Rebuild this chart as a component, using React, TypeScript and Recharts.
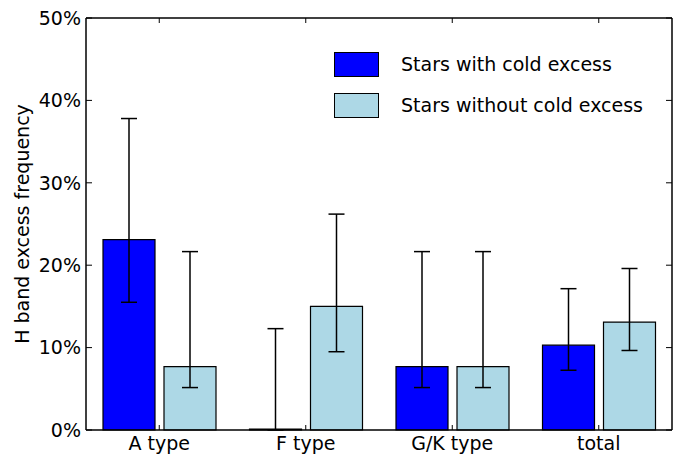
import React from 'react';
import { BarChart, Bar, Line, XAxis, YAxis, ErrorBar } from 'recharts';

const categories = ['A type', 'F type', 'G/K type', 'total'];

const withCold = [0.231, 0, 0.077, 0.103];
const withColdLow = [0.155, 0, 0.0515, 0.0725];
const withColdHigh = [0.378, 0.123, 0.2165, 0.1715];

const withoutCold = [0.077, 0.15, 0.077, 0.131];
const withoutColdLow = [0.0515, 0.095, 0.0515, 0.0965];
const withoutColdHigh = [0.2165, 0.262, 0.2165, 0.196];

const yTicks = [0, 0.1, 0.2, 0.3, 0.4, 0.5];

const seriesNames = ['Stars with cold excess', 'Stars without cold excess'];
const seriesColors = ['#0000ff', '#add8e6'];

const data = categories.map((name, i) => ({
  name,
  cold: withCold[i],
  coldErr: [withCold[i] - withColdLow[i], withColdHigh[i] - withCold[i]],
  noCold: withoutCold[i],
  noColdErr: [withoutCold[i] - withoutColdLow[i], withoutColdHigh[i] - withoutCold[i]],
}));

const font = "'DejaVu Sans', sans-serif";
const fs = 19;
const pct = (v: number) => `${Math.round(v * 100)}%`;

const YTitle = ({ viewBox }: any) => {
  const cy = viewBox.y + viewBox.height / 2;
  return (
    <text
      x={22}
      y={cy}
      transform={`rotate(-90, 22, ${cy})`}
      textAnchor="middle"
      dominantBaseline="central"
      fontSize={fs}
      fontFamily={font}
      fill="#000"
    >
      H band excess frequency
    </text>
  );
};

const frameLine = { stroke: '#000', strokeWidth: 1.5 };
const tickMark = { stroke: '#000', strokeWidth: 1 };

export default function App() {
  return (
    <div style={{ position: 'absolute', left: 0, top: 0, width: 685, height: 454, background: '#fff' }}>
      <BarChart
        width={685}
        height={454}
        data={data}
        margin={{ top: 17, right: 12, bottom: 0, left: 0 }}
        barGap={9}
        barSize={52}
      >
        <XAxis
          dataKey="name"
          height={24}
          stroke="#000"
          tickSize={-5}
          tickMargin={12}
          tick={{ fill: '#000', fontSize: fs, fontFamily: font }}
          axisLine={frameLine}
          tickLine={tickMark}
        />
        <XAxis
          xAxisId="top"
          dataKey="name"
          orientation="top"
          height={1}
          tickSize={-5}
          tickFormatter={() => ''}
          axisLine={frameLine}
          tickLine={tickMark}
        />
        <YAxis
          width={86}
          domain={[0, 0.5]}
          ticks={yTicks}
          tickFormatter={pct}
          tickSize={-6}
          tickMargin={11}
          tick={{ fill: '#000', fontSize: fs, fontFamily: font }}
          axisLine={frameLine}
          tickLine={tickMark}
          label={{ content: <YTitle /> }}
        />
        <YAxis
          yAxisId="right"
          orientation="right"
          width={1}
          domain={[0, 0.5]}
          ticks={yTicks}
          tickSize={-6}
          tickFormatter={() => ''}
          axisLine={frameLine}
          tickLine={tickMark}
        />
        <Bar dataKey="cold" fill={seriesColors[0]} stroke="#000" strokeWidth={1.2} minPointSize={1} isAnimationActive={false}>
          <ErrorBar dataKey="coldErr" width={8} stroke="#000" strokeWidth={1.5} direction="y" />
        </Bar>
        <Bar dataKey="noCold" fill={seriesColors[1]} stroke="#000" strokeWidth={1.2} isAnimationActive={false}>
          <ErrorBar dataKey="noColdErr" width={8} stroke="#000" strokeWidth={1.5} direction="y" />
        </Bar>
        <Line
          xAxisId="top"
          yAxisId="right"
          dataKey="cold"
          stroke="none"
          dot={false}
          activeDot={false}
          legendType="none"
          isAnimationActive={false}
        />
      </BarChart>
      {seriesNames.map((n, i) => (
        <div
          key={n}
          style={{ position: 'absolute', left: 334, top: 52 + i * 41, display: 'flex', alignItems: 'center', fontFamily: font, fontSize: fs, color: '#000' }}
        >
          <div style={{ width: 43, height: 23, background: seriesColors[i], border: '1px solid #000' }} />
          <span style={{ marginLeft: 22, lineHeight: '25px' }}>{n}</span>
        </div>
      ))}
    </div>
  );
}
